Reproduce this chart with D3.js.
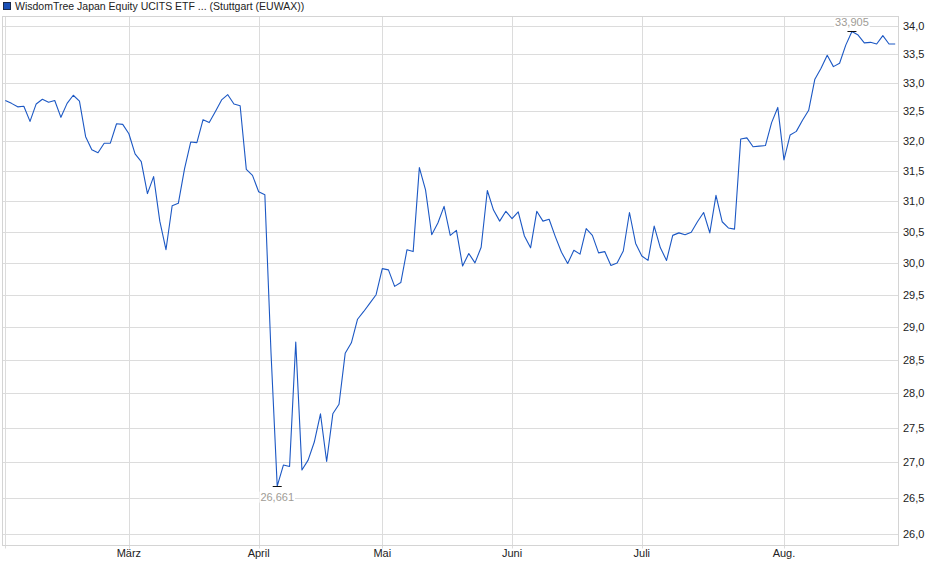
<!DOCTYPE html>
<html>
<head>
<meta charset="utf-8">
<script src="https://cdn.jsdelivr.net/npm/d3@7"></script>
<style>
  body { margin: 0; background: #fff; }
  svg { display: block; font-family: 'Liberation Sans', Arial, sans-serif; }
</style>
</head>
<body>
<svg id="chart"></svg>
<script>
// closing prices per trading day, Feb 3 to Aug 27
const prices = [
  32.69, 32.64, 32.58, 32.59, 32.33, 32.63, 32.71, 32.66, 32.69, 32.40,
  32.64, 32.78, 32.68, 32.07, 31.85, 31.80, 31.96, 31.96, 32.29, 32.28,
  32.12, 31.78, 31.65, 31.12, 31.40, 30.67, 30.21, 30.92, 30.96, 31.53,
  31.98, 31.97, 32.36, 32.31, 32.50, 32.70, 32.79, 32.63, 32.60, 31.52,
  31.42, 31.15, 31.10, 28.60, 26.661, 26.96, 26.94, 28.77, 26.89, 27.03,
  27.29, 27.70, 27.01, 27.70, 27.84, 28.60, 28.76, 29.12, 29.24, 29.37,
  29.50, 29.91, 29.89, 29.63, 29.69, 30.21, 30.18, 31.55, 31.18, 30.45,
  30.64, 30.91, 30.44, 30.52, 29.95, 30.15, 30.00, 30.25, 31.17, 30.85,
  30.67, 30.83, 30.71, 30.82, 30.43, 30.24, 30.83, 30.67, 30.70, 30.42,
  30.17, 29.99, 30.20, 30.14, 30.55, 30.44, 30.16, 30.18, 29.96, 30.00,
  30.19, 30.81, 30.31, 30.11, 30.04, 30.59, 30.24, 30.04, 30.44, 30.48,
  30.45, 30.49, 30.66, 30.81, 30.48, 31.09, 30.66, 30.56, 30.54, 32.03,
  32.05, 31.90, 31.91, 31.92, 32.31, 32.57, 31.68, 32.10, 32.16, 32.35,
  32.52, 33.06, 33.25, 33.48, 33.28, 33.34, 33.66, 33.905, 33.84, 33.70,
  33.71, 33.68, 33.83, 33.68, 33.68
];

// first trading day of each month (index into prices)
const monthLabels = ['', 'März', 'April', 'Mai', 'Juni', 'Juli', 'Aug.'];
const monthStart = [0, 20, 41, 61, 82, 103, 126];

const yTicks = [26.0, 26.5, 27.0, 27.5, 28.0, 28.5, 29.0, 29.5, 30.0, 30.5, 31.0, 31.5, 32.0, 32.5, 33.0, 33.5, 34.0];
const yDomain = [25.84, 34.17];

const title = 'WisdomTree Japan Equity UCITS ETF ... (Stuttgart (EUWAX))';

const W = 940, H = 579;
const plot = {left: 2.5, right: 898.5, top: 16.5, bottom: 545.5};
const lineColor = '#1c58c4';
const fmt = v => d3.format('.1f')(v).replace('.', ',');
const fmt3 = v => d3.format('.3f')(v).replace('.', ',');

const svg = d3.select('#chart')
.attr('width', W)
.attr('height', H);

const x = d3.scaleLinear()
.domain([0, prices.length - 1])
.range([5.3, 895.2]);

const y = d3.scaleLog()
.domain(yDomain)
.range([545.3, 16.7]);

// title + legend box
svg.append('rect')
.attr('x', 3.5).attr('y', 2.5)
.attr('width', 7).attr('height', 7)
.attr('fill', '#1a50b8')
.attr('stroke', '#1b2a4a');

svg.append('text')
.attr('x', 15).attr('y', 10)
.style('font-size', '10.5px')
.style('fill', '#222')
.text(title);

// horizontal grid
svg.append('g')
.selectAll('line')
.data(yTicks)
.enter()
.append('line')
.attr('x1', plot.left).attr('x2', plot.right)
.attr('y1', d => Math.round(y(d)) + 0.5)
.attr('y2', d => Math.round(y(d)) + 0.5)
.attr('stroke', '#dcdcdc');

// vertical grid at month starts
svg.append('g')
.selectAll('line')
.data(monthStart)
.enter()
.append('line')
.attr('x1', d => Math.round(x(d)) + 0.5)
.attr('x2', d => Math.round(x(d)) + 0.5)
.attr('y1', plot.top).attr('y2', plot.bottom + 3)
.attr('stroke', '#dcdcdc');

// plot frame
svg.append('rect')
.attr('x', plot.left).attr('y', plot.top)
.attr('width', plot.right - plot.left)
.attr('height', plot.bottom - plot.top)
.attr('fill', 'none')
.attr('stroke', '#d4d4d4');

// y labels on the right
svg.append('g')
.selectAll('text')
.data(yTicks)
.enter()
.append('text')
.attr('x', 903)
.attr('y', d => y(d) + 4)
.style('font-size', '11px')
.style('fill', '#222')
.text(d => fmt(d));

// month labels
svg.append('g')
.selectAll('text')
.data(monthStart)
.enter()
.append('text')
.attr('x', d => x(d))
.attr('y', 557)
.attr('text-anchor', 'middle')
.style('font-size', '11px')
.style('fill', '#222')
.text((d, i) => monthLabels[i]);

// price line
const line = d3.line()
.x((d, i) => x(i))
.y(d => y(d));

svg.append('path')
.datum(prices)
.attr('d', line)
.attr('fill', 'none')
.attr('stroke', lineColor)
.attr('stroke-width', 1.1)
.attr('stroke-linejoin', 'round');

// min / max markers
const minI = d3.minIndex(prices);
const maxI = d3.maxIndex(prices);

[{i: minI, below: true}, {i: maxI, below: false}].forEach(m => {
  const px = x(m.i), py = y(prices[m.i]);
  const ly = m.below ? py + 14.5 : py - 5.5;
  const label = fmt3(prices[m.i]);
  const tw = label.length * 5.6;
  svg.append('rect')
  .attr('x', px - tw / 2 - 1).attr('y', ly - 9)
  .attr('width', tw + 2).attr('height', 11)
  .attr('fill', '#fff');
  svg.append('line')
  .attr('x1', px - 4.5).attr('x2', px + 4.5)
  .attr('y1', Math.round(py) + 0.5).attr('y2', Math.round(py) + 0.5)
  .attr('stroke', '#111');
  svg.append('text')
  .attr('x', px).attr('y', ly)
  .attr('text-anchor', 'middle')
  .style('font-size', '11px')
  .style('fill', '#a09c96')
  .text(label);
});
</script>
</body>
</html>
